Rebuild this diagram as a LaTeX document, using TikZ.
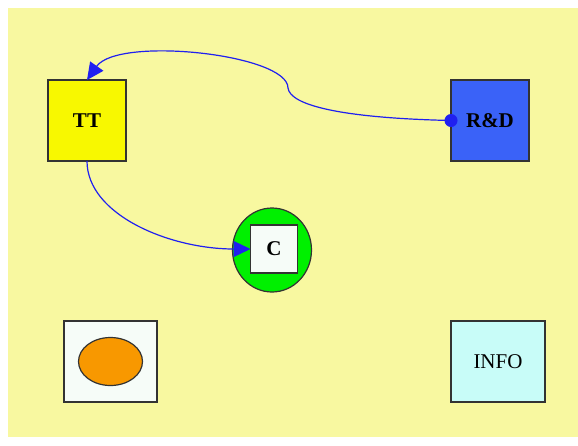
\documentclass[tikz,border=0pt]{standalone}
\usepackage{fontspec}
\setmainfont{Liberation Serif}
\usetikzlibrary{shapes.geometric,arrows.meta}
\definecolor{canvas}{HTML}{F8F8A0}
\definecolor{ttfill}{HTML}{F8F800}
\definecolor{rdfill}{HTML}{3A62F8}
\definecolor{cring}{HTML}{00F000}
\definecolor{paper}{HTML}{F6FCF8}
\definecolor{blobfill}{HTML}{F89800}
\definecolor{infofill}{HTML}{C8FCF8}
\definecolor{frame}{HTML}{333333}
\definecolor{link}{HTML}{2020F0}
\tikzset{
  box/.style={draw=frame, line width=1.3pt, inner sep=0pt, outer sep=0pt,
    minimum width=78pt, minimum height=81pt,
    font=\fontsize{21}{25}\selectfont},
  boldlabel/.style={font=\fontsize{21}{25}\selectfont\bfseries},
  link/.style={draw=link, line width=1.2pt},
  tip/.style={-{Triangle[length=17pt,width=16pt]}, link}
}
\begin{document}
\begin{tikzpicture}[x=1pt,y=-1pt]
  \useasboundingbox (0,0) rectangle (578,445);
  \fill[canvas] (8,8) rectangle (578,437);

  % department boxes
  \node[box, boldlabel, fill=ttfill] (tt) at (87,120.5) {TT};
  \node[box, boldlabel, fill=rdfill] (rd) at (490,120.5) {R\&D};

  % C: white square on a green disc
  \node[ellipse, draw=frame, line width=1.2pt, fill=cring, inner sep=0pt,
        minimum width=79pt, minimum height=84pt] (cring) at (272,250) {};
  \node[box, boldlabel, fill=paper, minimum width=47pt, minimum height=48pt]
        (c) at (274,249) {C};

  % legend boxes
  \node[box, fill=paper, minimum width=93pt] (legend) at (110.5,361.5) {};
  \node[ellipse, draw=frame, line width=1.2pt, fill=blobfill, inner sep=0pt,
        minimum width=64pt, minimum height=48pt] (blob) at (legend.center) {};
  \node[box, fill=infofill, minimum width=94pt] (info) at (498,361.5) {INFO};

  % connectors
  \coordinate (bend) at (288,88);
  \draw[link] (rd.west) .. controls (340,118) and (290,105) .. (bend);
  \draw[tip] (bend) .. controls (288,54) and (118,36) .. (tt.north);
  \fill[fill=link] (rd.west) circle (6.5pt);
  \draw[tip] (tt.south) .. controls (87,215) and (170,249) .. (c.west);
\end{tikzpicture}
\end{document}
